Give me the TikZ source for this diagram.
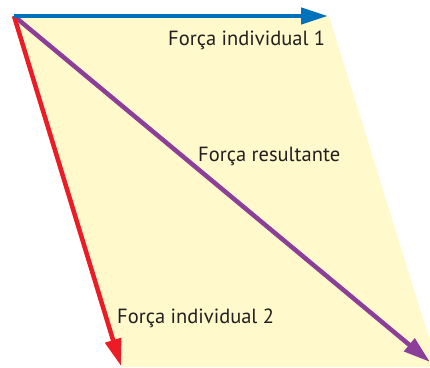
\documentclass[tikz,border=0pt]{standalone}
\usepackage{fontspec}
\setmainfont{PT Sans}
\usetikzlibrary{arrows.meta}
\definecolor{fillyel}{HTML}{FFF9CC}
\definecolor{fblue}{HTML}{0072BC}
\definecolor{fred}{HTML}{ED1C24}
\definecolor{fpurple}{HTML}{8C3F98}
\definecolor{ftext}{HTML}{231F20}
\tikzset{
  vec/.style={line width=4.5pt, -{Triangle[length=27pt,width=16pt]}},
  lbl/.style={font=\fontsize{20.5pt}{22pt}\selectfont, text=ftext, inner sep=0pt}
}
\begin{document}
\begin{tikzpicture}[x=1pt,y=-1pt]
\useasboundingbox (0,0) rectangle (430,367);
\coordinate (O) at (14,16);
\coordinate (A) at (329,16);
\coordinate (B) at (123,367);
\coordinate (C) at (438,367);
\coordinate (At) at (328,16);
\coordinate (Bt) at (121,366);
\coordinate (Ct) at (430,362);
\fill[fillyel] (O) -- (A) -- (C) -- (B) -- cycle;
\draw[vec, fpurple] (O) -- (Ct);
\draw[vec, fred] (O) -- (Bt);
\draw[vec, fblue] (O) -- (At);
\node[lbl, anchor=base west] (l1) at (168,45) {Força individual 1};
\node[lbl, anchor=base west] (l2) at (198,161) {Força resultante};
\node[lbl, anchor=base west] (l3) at (117,323) {Força individual 2};
\end{tikzpicture}
\end{document}
